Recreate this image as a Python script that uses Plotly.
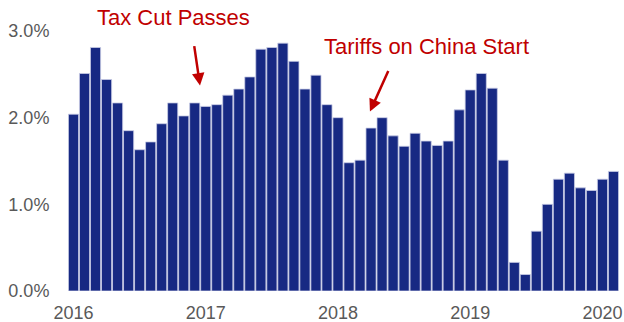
import plotly.graph_objects as go

# Monthly growth rate, Jan 2016 - Feb 2020 (percent)
months = [f"{y}-{m:02d}" for y in range(2016, 2021) for m in range(1, 13)][:50]
growth = [
    2.04, 2.51, 2.81, 2.44, 2.17, 1.85, 1.63, 1.72, 1.93, 2.17, 2.02, 2.17,
    2.13, 2.15, 2.26, 2.33, 2.47, 2.79, 2.81, 2.86, 2.65, 2.33, 2.49, 2.15,
    2.00, 1.48, 1.51, 1.88, 2.00, 1.79, 1.67, 1.82, 1.73, 1.68, 1.73, 2.09,
    2.32, 2.51, 2.34, 1.51, 0.33, 0.19, 0.69, 1.00, 1.29, 1.36, 1.19, 1.16,
    1.29, 1.38,
]
year_ticks = ["2016-01", "2017-01", "2018-01", "2019-01", "2020-01"]
year_labels = ["2016", "2017", "2018", "2019", "2020"]
y_ticks = [0, 1, 2, 3]
y_labels = ["0.0%", "1.0%", "2.0%", "3.0%"]

RED = "#c00000"
NAVY = "#172983"
GREY = "#595959"

fig = go.Figure(
    go.Bar(
        x=months,
        y=growth,
        marker=dict(color=NAVY, line=dict(color="#c9cde6", width=0.8)),
    )
)

fig.update_layout(
    width=624,
    height=322,
    margin=dict(l=68, r=5, t=31, b=31),
    paper_bgcolor="white",
    plot_bgcolor="white",
    bargap=0.08,
    showlegend=False,
    font=dict(family="Arial, Liberation Sans, sans-serif", size=18, color=GREY),
)
fig.update_xaxes(
    type="category",
    tickmode="array",
    tickvals=year_ticks,
    ticktext=year_labels,
    showgrid=False,
    zeroline=False,
    showline=False,
    ticks="outside",
    ticklen=5,
    tickcolor="rgba(0,0,0,0)",
    tickfont=dict(size=18, color=GREY),
    automargin=False,
)
fig.update_yaxes(
    range=[0, 3.0],
    tickmode="array",
    tickvals=y_ticks,
    ticktext=y_labels,
    showgrid=False,
    zeroline=False,
    showline=False,
    ticks="outside",
    ticklen=14,
    tickcolor="rgba(0,0,0,0)",
    tickfont=dict(size=18, color=GREY),
    automargin=False,
)

# Event labels
fig.add_annotation(x=9.03, y=1.05, text="Tax Cut Passes", showarrow=False,
                   font=dict(size=22, color=RED), xref="x", yref="paper",
                   yanchor="middle")
fig.add_annotation(x=32.0, y=2.82, text="Tariffs on China Start", showarrow=False,
                   font=dict(size=22, color=RED), xref="x", yref="y")

# Arrows pointing to the event months
fig.add_annotation(x=11.48, y=2.37, ax=-6, ay=-41, text="", showarrow=True,
                   arrowhead=2, arrowsize=1, arrowwidth=2.5, arrowcolor=RED,
                   xref="x", yref="y")
fig.add_annotation(x=26.9, y=2.07, ax=19, ay=-42, text="", showarrow=True,
                   arrowhead=2, arrowsize=1, arrowwidth=2.5, arrowcolor=RED,
                   xref="x", yref="y")

fig.write_html("out.html")
